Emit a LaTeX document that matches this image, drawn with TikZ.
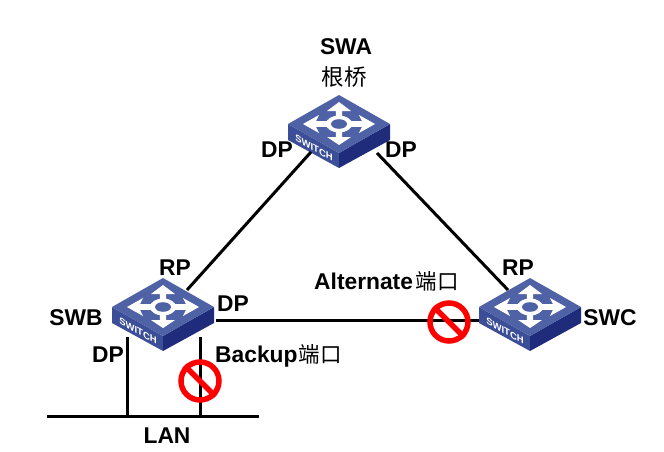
\documentclass[tikz,border=0pt]{standalone}
\usepackage{fontspec}
\setmainfont{Liberation Sans}[BoldFont={Liberation Sans Bold}]
\newfontfamily\cjkfont{Noto Sans CJK SC}
\definecolor{topblue}{HTML}{4F62A5}
\definecolor{leftblue}{HTML}{3C4E97}
\definecolor{rightblue}{HTML}{1F2B7B}
\definecolor{signred}{HTML}{FF0000}
\tikzset{
  lab/.style={inner sep=0pt,font=\fontsize{22.8}{23}\selectfont\bfseries,text=black},
  cjk/.style={inner sep=0pt,font=\fontsize{22.5}{23}\selectfont\cjkfont,text=black},
  link/.style={draw=black,line width=3pt},
  nosign/.style={circle,draw=signred,line width=5.5pt,minimum size=38pt,inner sep=0pt},
  noslash/.style={draw=signred,line width=5.5pt},
  switchicon/.pic={
    \fill[leftblue] (-51,0) -- (0,29) -- (0,44) -- (-51,16) -- cycle;
    \fill[rightblue] (51,0) -- (0,29) -- (0,44) -- (51,16) -- cycle;
    \fill[topblue] (0,-29) -- (51,0) -- (0,29) -- (-51,0) -- cycle;
    \fill[white]
      (11,-2.8) -- (23,-2.8) -- (20,-9) -- (36,0) -- (20,9) -- (23,2.8) -- (11,2.8) -- (0,0)
      -- (-11,2.8) -- (-23,2.8) -- (-20,9) -- (-36,0) -- (-20,-9) -- (-23,-2.8) -- (-11,-2.8) -- cycle;
    \fill[white]
      (-3.2,-5) -- (-3.2,-13) -- (-12,-13) -- (0,-22) -- (12,-13) -- (3.2,-13) -- (3.2,-5)
      -- (3.2,5) -- (3.2,13) -- (12,13) -- (0,21) -- (-12,13) -- (-3.2,13) -- (-3.2,5) -- cycle;
    \fill[white] (0,0) ellipse [x radius=13,y radius=8.5];
    \fill[topblue] (0,0) ellipse [x radius=8,y radius=4.8];
    \begin{scope}[shift={(-25,24)}]
      \node[inner sep=0pt,text=white,font=\fontsize{9.5}{9.5}\selectfont\bfseries,
            cm={1,-0.55,0,1,(0,0)},transform shape] (-lbl) at (0,0) {SWITCH};
    \end{scope}
    \coordinate (-ul) at (-28,28);
    \coordinate (-ur) at (38,29);
    \coordinate (-tl) at (-22,-17);
    \coordinate (-tr) at (24,-17);
    \coordinate (-e) at (53,13);
    \coordinate (-w) at (-51,13);
    \coordinate (-dl) at (-36,30);
    \coordinate (-dr) at (37,30);
  }
}
\begin{document}
\begin{tikzpicture}[x=1pt,y=-1pt]
\useasboundingbox (0,0) rectangle (664,452);
\pic (swa) at (339,124) {switchicon};
\pic (swb) at (163,307) {switchicon};
\pic (swc) at (530,307) {switchicon};
\coordinate (lanw) at (47,416);
\coordinate (lane) at (259,416);
\coordinate (landp) at (127,416);
\coordinate (lanbk) at (200,416);
\draw[link] (swa-ul) -- (swb-tr);
\draw[link] (swa-ur) -- (swc-tl);
\draw[link] (swb-e) -- (swc-w);
\draw[link] (lanw) -- (lane);
\draw[link] (swb-dl) -- (landp);
\draw[link] (swb-dr) -- (lanbk);
\node[nosign] (signa) at (449,322) {};
\draw[noslash] (signa.north west) -- (signa.south east);
\node[nosign] (signb) at (200,381) {};
\draw[noslash] (signb.north west) -- (signb.south east);
\node[lab] (tswa) at (346,47) {SWA};
\node[cjk] (troot) at (344,77) {根桥};
\node[lab] (dpa) at (277,150) {DP};
\node[lab] (dpb) at (401,150) {DP};
\node[lab] (rpb) at (175,268) {RP};
\node[lab] (tswb) at (76,318) {SWB};
\node[lab] (dpc) at (233,304) {DP};
\node[lab] (dpd) at (108,355) {DP};
\node[lab,anchor=west] (bk) at (215,356) {Backup\hspace{1pt}{\fontsize{21.5}{22}\selectfont\cjkfont\mdseries 端口}};
\node[lab] (lan) at (167,436) {LAN};
\node[lab,anchor=west] (alt) at (314,281) {Alternate\hspace{2.5pt}{\fontsize{21.5}{22}\selectfont\cjkfont\mdseries 端口}};
\node[lab] (rpc) at (518,268) {RP};
\node[lab] (tswc) at (610,318) {SWC};
\end{tikzpicture}
\end{document}
